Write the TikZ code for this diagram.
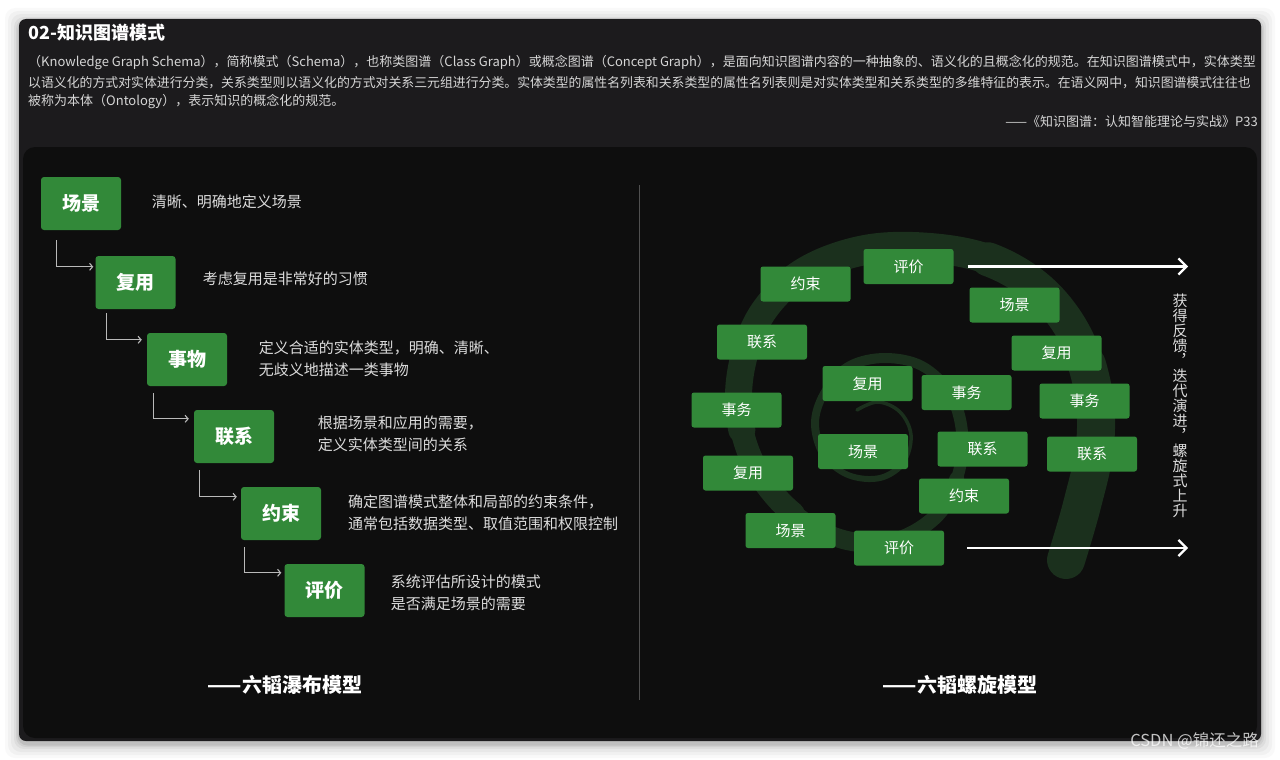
\documentclass[tikz,border=0pt]{standalone}
\usepackage{fontspec}
\setmainfont{Noto Sans CJK SC}
\usetikzlibrary{arrows.meta,calc}
\definecolor{boxgreen}{RGB}{50,137,57}
\definecolor{spiralgreen}{RGB}{27,48,29}
\definecolor{titlebg}{RGB}{28,27,29}
\definecolor{panelbg}{RGB}{14,14,14}
\definecolor{bodytext}{RGB}{214,214,214}
\definecolor{desctext}{RGB}{220,220,220}
\definecolor{conngray}{RGB}{185,185,185}
\definecolor{divider}{RGB}{80,80,80}
\begin{document}
\begin{tikzpicture}[x=1pt,y=-1pt,
  lbox/.style={rectangle,rounded corners=3pt,fill=boxgreen,minimum width=80pt,minimum height=53pt,inner sep=0pt,text=white,font=\fontsize{19}{19}\selectfont\bfseries},
  rbox/.style={rectangle,rounded corners=2.5pt,fill=boxgreen,minimum width=90pt,minimum height=35pt,inner sep=0pt,text=white,font=\fontsize{15}{15}\selectfont},
  desc/.style={anchor=west,inner sep=0pt,text=desctext,align=left,font=\fontsize{15}{22}\selectfont},
  body/.style={anchor=west,inner sep=0pt,text=bodytext,font=\fontsize{13}{13}\selectfont},
  conn/.style={draw=conngray,line width=1.2pt,-{Straight Barb[length=3pt,width=7pt,line width=1.1pt]}},
  bigarrow/.style={draw=white,line width=2.2pt,-{Straight Barb[length=8pt,width=16pt,line width=2.2pt]}},
  caption/.style={inner sep=0pt,text=white,font=\fontsize{20}{20}\selectfont\bfseries},
  spiral/.style={draw=spiralgreen,line cap=round,line join=round}
]
\useasboundingbox (0,0) rectangle (1280,760);
\fill[white] (0,0) rectangle (1280,760);
% shadow
\foreach \s/\o in {14/0.025,11/0.03,8/0.035,5/0.045,3/0.06,1.5/0.08}{
  \fill[black,opacity=\o,rounded corners=10pt] (19-\s,19-\s+3) rectangle (1261+\s,741+\s+3);
}
% panels
\fill[titlebg,rounded corners=7pt] (19,19) rectangle (1261,741);
\fill[panelbg,rounded corners=12pt] (23,147) rectangle (1257,738);

% header
\node[anchor=west,inner sep=0pt,text=white,font=\fontsize{18}{18}\selectfont\bfseries] (title) at (28,33) {02-知识图谱模式};
\node[body] (l1) at (28,63) {（Knowledge Graph Schema），简称模式（Schema），也称类图谱（Class Graph）或概念图谱（Concept Graph），是面向知识图谱内容的一种抽象的、语义化的且概念化的规范。在知识图谱模式中，实体类型};
\node[body,xscale=0.99,transform shape] (l2) at (28,83) {以语义化的方式对实体进行分类，关系类型则以语义化的方式对关系三元组进行分类。实体类型的属性名列表和关系类型的属性名列表则是对实体类型和关系类型的多维特征的表示。在语义网中，知识图谱模式往往也};
\node[body] (l3) at (28,102) {被称为本体（Ontology），表示知识的概念化的规范。};
\node[body,anchor=east] (src) at (1258,122) {——《知识图谱：认知智能理论与实战》P33};

% divider
\draw[divider,line width=1pt] (639,185) -- (639,700);

% ---------- left: waterfall ----------
\node[lbox] (b1) at (81,203.5) {场景};
\node[lbox] (b2) at (135.5,282.5) {复用};
\node[lbox] (b3) at (187,359.5) {事物};
\node[lbox] (b4) at (234,436.5) {联系};
\node[lbox] (b5) at (281,513.5) {约束};
\node[lbox] (b6) at (324.5,590.5) {评价};

\draw[conn] ($(b1.south west)+(16,10)$) |- ($(b2.north west)+(-2,11)$);
\draw[conn] ($(b2.south west)+(11,4)$) |- ($(b3.north west)+(-5,7)$);
\draw[conn] ($(b3.south west)+(7,7)$) |- ($(b4.north west)+(-5,9)$);
\draw[conn] ($(b4.south west)+(6,7)$) |- ($(b5.north west)+(-4,10)$);
\draw[conn] ($(b5.south west)+(4,7)$) |- ($(b6.north west)+(-3,9)$);

\node[desc] (d1) at (151.6,201.7) {清晰、明确地定义场景};
\node[desc] (d2) at (202.6,279) {考虑复用是非常好的习惯};
\node[desc] (d3) at (258.7,359) {定义合适的实体类型，明确、清晰、\\无歧义地描述一类事物};
\node[desc] (d4) at (317.6,434) {根据场景和应用的需要，\\定义实体类型间的关系};
\node[desc] (d5) at (348,512.5) {确定图谱模式整体和局部的约束条件，\\通常包括数据类型、取值范围和权限控制};
\node[desc] (d6) at (390.7,593) {系统评估所设计的模式\\是否满足场景的需要};

\node[caption] (cap1) at (285,685) {——六韬瀑布模型};

% ---------- right: spiral ----------
\def\spiralpath{plot[smooth,tension=0.6] coordinates {(1066,560) (1082,505) (1095,445) (1093,390) (1075,335) (1040,290) (990,260) (930,248) (865,250) (805,272) (763,312) (742,365) (740,420) (758,472) (795,515) (845,540) (895,540) (937,515) (958,475) (962,432) (950,393) (922,366) (885,358) (850,366) (826,390) (815,422) (824,455) (848,475) (880,478) (904,462) (911,435) (900,412) (878,402) (857,410)}}
\foreach \L/\w in {200/38,350/34,550/30,720/27,820/23,920/19,1020/15,1120/12,1230/10,1330/8,1420/6}{
  \draw[spiral,line width=\w pt,dash pattern=on \L pt off 8000pt] \spiralpath;
}
\draw[spiral,line width=3.5pt] \spiralpath;

\node[rbox] (r1) at (908.5,266.5) {评价};
\node[rbox] (r2) at (805.5,284) {约束};
\node[rbox] (r3) at (1014.5,305) {场景};
\node[rbox] (r4) at (762,342) {联系};
\node[rbox] (r5) at (1056.5,353) {复用};
\node[rbox] (r6) at (867.5,383.5) {复用};
\node[rbox] (r7) at (966.5,392.5) {事务};
\node[rbox] (r8) at (736.5,410) {事务};
\node[rbox] (r9) at (1084.5,401) {事务};
\node[rbox] (r10) at (863,451.5) {场景};
\node[rbox] (r11) at (982.5,449) {联系};
\node[rbox] (r12) at (1092,454) {联系};
\node[rbox] (r13) at (748,473) {复用};
\node[rbox] (r14) at (964,496) {约束};
\node[rbox] (r15) at (790.5,530.5) {场景};
\node[rbox] (r16) at (899,548) {评价};

\coordinate (e1) at (1188,266.5);
\coordinate (e2) at (1188,548);
\draw[bigarrow] ($(r1.east)+(14,0)$) -- (e1);
\draw[bigarrow] ($(r16.east)+(23,0)$) -- (e2);

\node[inner sep=0pt,text=desctext,align=center,font=\fontsize{15}{15}\selectfont] (vt) at (1180,405.5)
  {获\\得\\反\\馈\\︐\\迭\\代\\演\\进\\︐\\螺\\旋\\式\\上\\升};

\node[caption] (cap2) at (960,685) {——六韬螺旋模型};

% watermark
\node[inner sep=0pt,text=white,opacity=0.75,font=\fontsize{16.5}{16.5}\selectfont] (wm) at (1194.5,741) {CSDN @锦还之路};
\end{tikzpicture}
\end{document}
